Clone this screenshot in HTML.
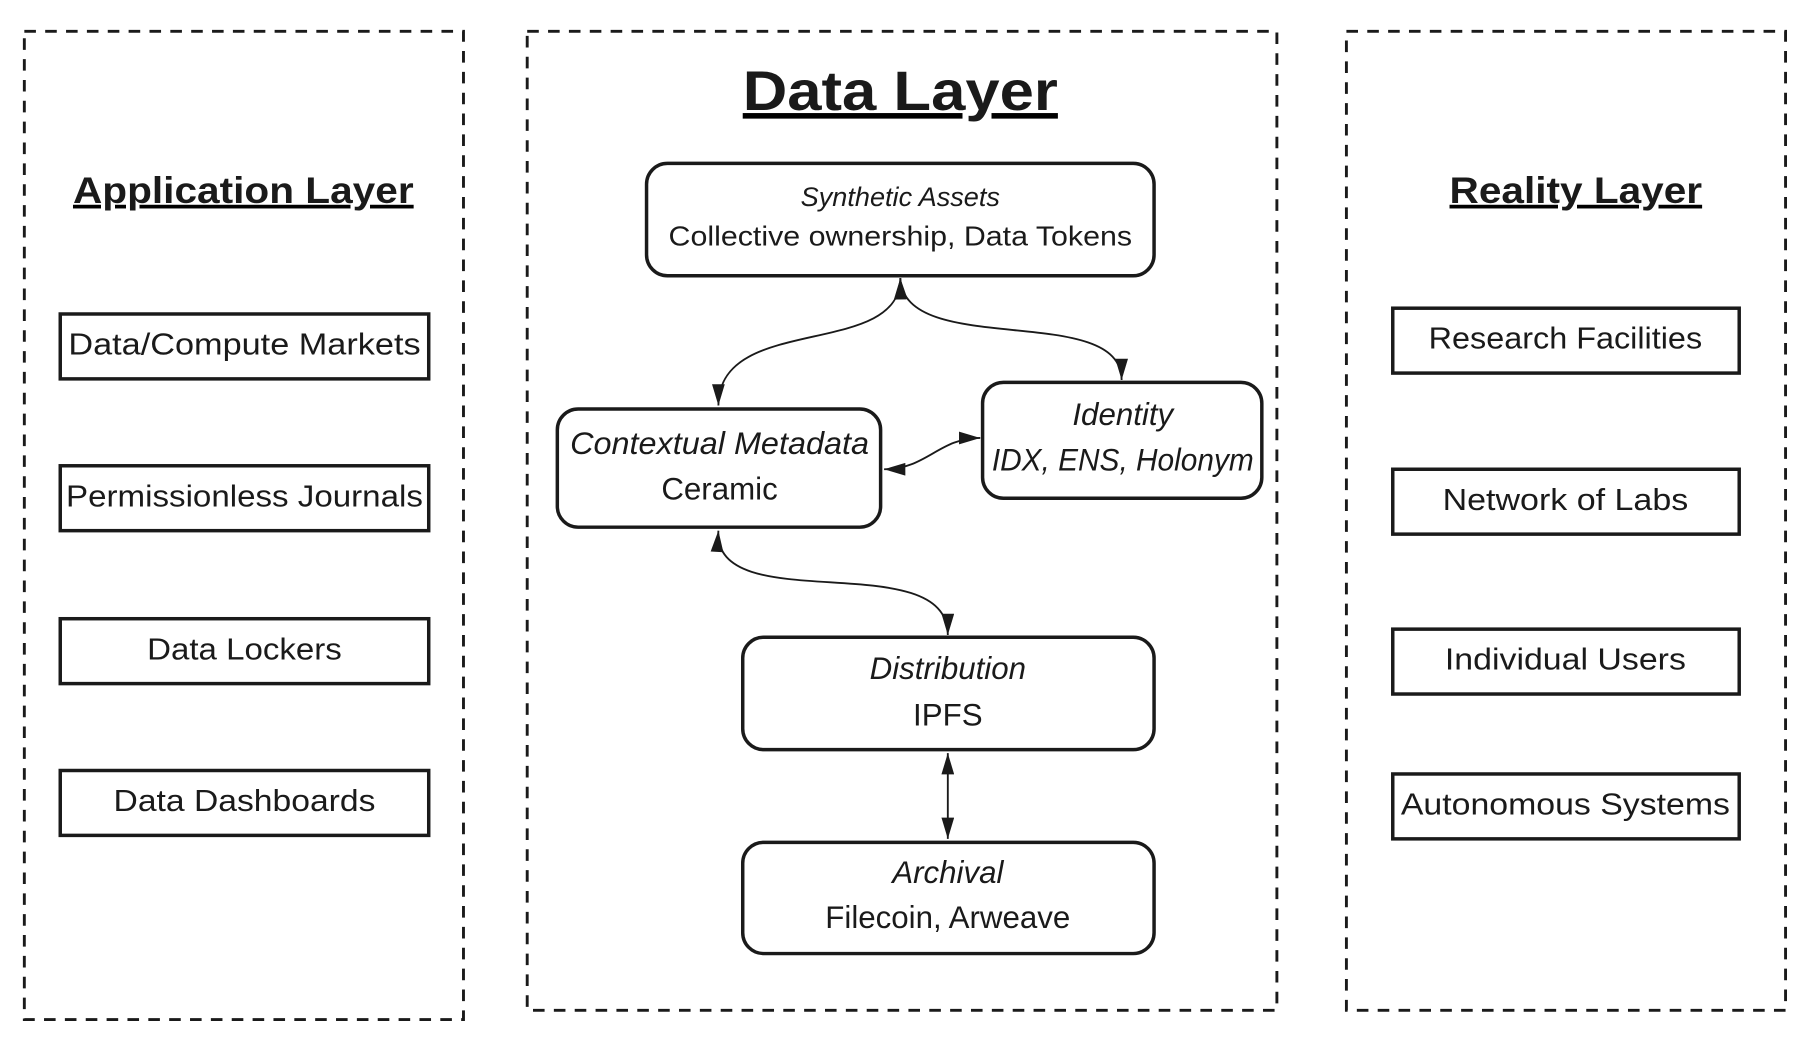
<!DOCTYPE html>
<html><head><style>
html,body{margin:0;padding:0;background:#fff}
svg{display:block}
text{font-family:"Liberation Sans",sans-serif;fill:#1a1a1a}
</style></head><body>
<svg width="1818" height="1040" viewBox="0 0 1569 897.6" preserveAspectRatio="none" xmlns="http://www.w3.org/2000/svg">
<defs>
<marker id="ah2" viewBox="0 0 20 12" refX="20" refY="6" markerWidth="20" markerHeight="11" markerUnits="userSpaceOnUse" orient="auto-start-reverse">
<path d="M0,0 L20,6 L0,12 z" fill="#1a1a1a"/>
</marker>
</defs>
<g fill="none" stroke="#1a1a1a" stroke-width="2.5" stroke-dasharray="10,8">
<rect x="21" y="27" width="379" height="853"/>
<rect x="455" y="27" width="647" height="845"/>
<rect x="1162" y="27" width="379" height="845"/>
</g>
<g font-weight="bold" text-anchor="middle" text-decoration="underline">
<text x="777" y="95" font-size="48" textLength="272" lengthAdjust="spacingAndGlyphs">Data Layer</text>
<text x="210" y="175" font-size="32" textLength="294" lengthAdjust="spacingAndGlyphs">Application Layer</text>
<text x="1360" y="175" font-size="32" textLength="218" lengthAdjust="spacingAndGlyphs">Reality Layer</text>
</g>
<g fill="#fff" stroke="#1a1a1a" stroke-width="3">
<rect x="52" y="271" width="318" height="56"/>
<rect x="52" y="402" width="318" height="56"/>
<rect x="52" y="534" width="318" height="56"/>
<rect x="52" y="665" width="318" height="56"/>
<rect x="1202" y="266" width="299" height="56"/>
<rect x="1202" y="405" width="299" height="56"/>
<rect x="1202" y="543" width="299" height="56"/>
<rect x="1202" y="668" width="299" height="56"/>
<rect x="558" y="141" width="438" height="97" rx="18"/>
<rect x="481" y="353" width="279" height="102" rx="18"/>
<rect x="848" y="330" width="241" height="100" rx="18"/>
<rect x="641" y="550" width="355" height="97" rx="18"/>
<rect x="641" y="727" width="355" height="96" rx="18"/>
</g>
<g text-anchor="middle" font-size="26">
<text x="211" y="306" textLength="304" lengthAdjust="spacingAndGlyphs">Data/Compute Markets</text>
<text x="211" y="437" textLength="308" lengthAdjust="spacingAndGlyphs">Permissionless Journals</text>
<text x="211" y="569" textLength="168" lengthAdjust="spacingAndGlyphs">Data Lockers</text>
<text x="211" y="700" textLength="226" lengthAdjust="spacingAndGlyphs">Data Dashboards</text>
<text x="1351" y="301" textLength="236" lengthAdjust="spacingAndGlyphs">Research Facilities</text>
<text x="1351" y="440" textLength="212" lengthAdjust="spacingAndGlyphs">Network of Labs</text>
<text x="1351" y="578" textLength="208" lengthAdjust="spacingAndGlyphs">Individual Users</text>
<text x="1351" y="703" textLength="284" lengthAdjust="spacingAndGlyphs">Autonomous Systems</text>
<text x="777" y="178" font-size="23" font-style="italic" textLength="172" lengthAdjust="spacingAndGlyphs">Synthetic Assets</text>
<text x="777" y="212" font-size="24" textLength="400" lengthAdjust="spacingAndGlyphs">Collective ownership, Data Tokens</text>
<text x="621" y="392" font-size="27" font-style="italic" textLength="258" lengthAdjust="spacingAndGlyphs">Contextual Metadata</text>
<text x="621" y="431" font-size="27">Ceramic</text>
<text x="969" y="367" font-size="27" font-style="italic">Identity</text>
<text x="969" y="406" font-size="27" font-style="italic" textLength="226" lengthAdjust="spacingAndGlyphs">IDX, ENS, Holonym</text>
<text x="818" y="586" font-size="27" font-style="italic">Distribution</text>
<text x="818" y="626" font-size="27">IPFS</text>
<text x="818" y="762" font-size="27" font-style="italic">Archival</text>
<text x="818" y="801" font-size="27">Filecoin, Arweave</text>
</g>
<g fill="none" stroke="#1a1a1a" stroke-width="1.6" marker-start="url(#ah2)" marker-end="url(#ah2)">
<path d="M777,240 C777,310 620,270 620,350"/>
<path d="M777,240 C780,310 968,260 968,328"/>
<path d="M763,405 C800,405 810,378 846,378"/>
<path d="M620,458 C615,535 818,470 818,548"/>
<path d="M818,650 L818,724"/>
</g>
</svg>
</body></html>
